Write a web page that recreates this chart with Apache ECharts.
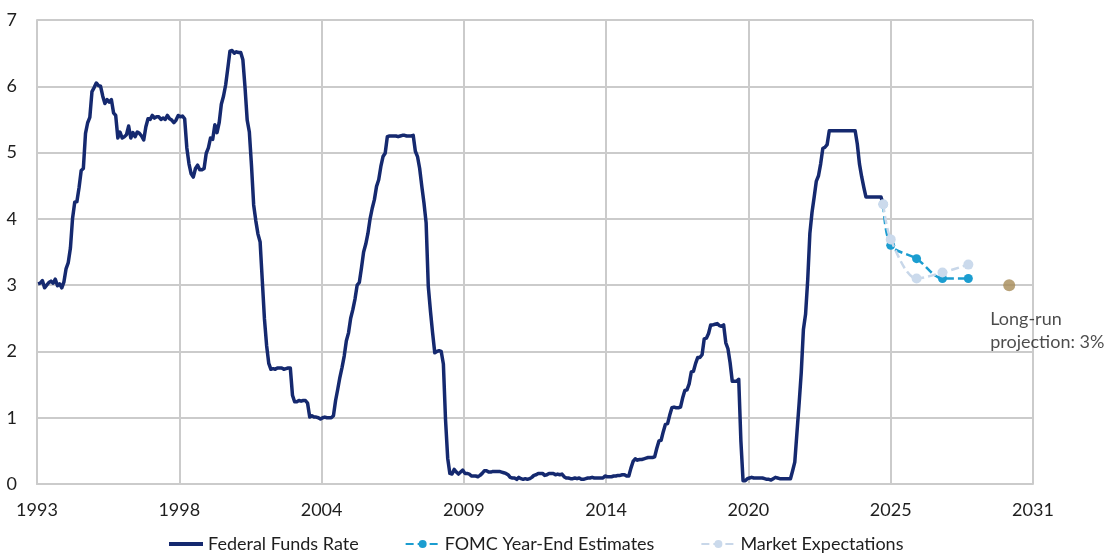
<!DOCTYPE html>
<html>
<head>
<meta charset="utf-8">
<title>Federal Funds Rate</title>
<script src="https://cdn.jsdelivr.net/npm/echarts@6/dist/echarts.min.js"></script>
<style>
  html, body { margin: 0; padding: 0; background: #ffffff; }
  #chart { width: 1109px; height: 556px; }
</style>
</head>
<body>
<div id="chart"></div>
<script>
// Horizontal axis: years counted from Jan 1993, gridline every 5.5 years
const X_START = 1993;
const X_STEP = 5.5;
const xTickLabels = ['1993', '1998', '2004', '2009', '2014', '2020', '2025', '2031'];

// Effective federal funds rate, monthly, Jan 1993 .. Sep 2025 (%)
const fedFundsStart = 1993;
const fedFundsRate = [
  3.02, 3.03, 3.07, 2.96, 3.00, 3.04, 3.06, 3.03, 3.09, 2.99, 3.02, 2.96, // 1993
  3.05, 3.25, 3.34, 3.56, 4.01, 4.25, 4.26, 4.47, 4.73, 4.76, 5.29, 5.45, // 1994
  5.53, 5.92, 5.98, 6.05, 6.01, 6.00, 5.85, 5.74, 5.80, 5.76, 5.80, 5.60, // 1995
  5.56, 5.22, 5.31, 5.22, 5.24, 5.27, 5.40, 5.22, 5.30, 5.24, 5.31, 5.29, // 1996
  5.25, 5.19, 5.39, 5.51, 5.50, 5.56, 5.52, 5.54, 5.54, 5.50, 5.52, 5.50, // 1997
  5.56, 5.51, 5.49, 5.45, 5.49, 5.56, 5.54, 5.55, 5.51, 5.07, 4.83, 4.68, // 1998
  4.63, 4.76, 4.81, 4.74, 4.74, 4.76, 4.99, 5.07, 5.22, 5.20, 5.42, 5.30, // 1999
  5.45, 5.73, 5.85, 6.02, 6.27, 6.53, 6.54, 6.50, 6.52, 6.51, 6.51, 6.40, // 2000
  5.98, 5.49, 5.31, 4.80, 4.21, 3.97, 3.77, 3.65, 3.07, 2.49, 2.09, 1.82, // 2001
  1.73, 1.74, 1.73, 1.75, 1.75, 1.75, 1.73, 1.74, 1.75, 1.75, 1.34, 1.24, // 2002
  1.24, 1.26, 1.25, 1.26, 1.26, 1.22, 1.01, 1.03, 1.01, 1.01, 1.00, 0.98, // 2003
  1.00, 1.01, 1.00, 1.00, 1.00, 1.03, 1.26, 1.43, 1.61, 1.76, 1.93, 2.16, // 2004
  2.28, 2.50, 2.63, 2.79, 3.00, 3.04, 3.26, 3.50, 3.62, 3.78, 4.00, 4.16, // 2005
  4.29, 4.49, 4.59, 4.79, 4.94, 4.99, 5.24, 5.25, 5.25, 5.25, 5.25, 5.24, // 2006
  5.25, 5.26, 5.26, 5.25, 5.25, 5.25, 5.26, 5.02, 4.94, 4.76, 4.49, 4.24, // 2007
  3.94, 2.98, 2.61, 2.28, 1.98, 2.00, 2.01, 2.00, 1.81, 0.97, 0.39, 0.16, // 2008
  0.15, 0.22, 0.18, 0.15, 0.18, 0.21, 0.16, 0.16, 0.15, 0.12, 0.12, 0.12, // 2009
  0.11, 0.13, 0.16, 0.20, 0.20, 0.18, 0.18, 0.19, 0.19, 0.19, 0.19, 0.18, // 2010
  0.17, 0.16, 0.14, 0.10, 0.09, 0.09, 0.07, 0.10, 0.08, 0.07, 0.08, 0.07, // 2011
  0.08, 0.10, 0.13, 0.14, 0.16, 0.16, 0.16, 0.13, 0.14, 0.16, 0.16, 0.16, // 2012
  0.14, 0.15, 0.14, 0.15, 0.11, 0.09, 0.09, 0.08, 0.08, 0.09, 0.08, 0.09, // 2013
  0.07, 0.07, 0.08, 0.09, 0.09, 0.10, 0.09, 0.09, 0.09, 0.09, 0.09, 0.12, // 2014
  0.11, 0.11, 0.11, 0.12, 0.12, 0.13, 0.13, 0.14, 0.14, 0.12, 0.12, 0.24, // 2015
  0.34, 0.38, 0.36, 0.37, 0.37, 0.38, 0.39, 0.40, 0.40, 0.40, 0.41, 0.54, // 2016
  0.65, 0.66, 0.79, 0.90, 0.91, 1.04, 1.15, 1.16, 1.15, 1.15, 1.16, 1.30, // 2017
  1.41, 1.42, 1.51, 1.69, 1.70, 1.82, 1.91, 1.91, 1.95, 2.19, 2.20, 2.27, // 2018
  2.40, 2.40, 2.41, 2.42, 2.39, 2.38, 2.40, 2.13, 2.04, 1.83, 1.55, 1.55, // 2019
  1.55, 1.58, 0.65, 0.05, 0.05, 0.08, 0.09, 0.10, 0.09, 0.09, 0.09, 0.09, // 2020
  0.09, 0.08, 0.07, 0.07, 0.06, 0.08, 0.10, 0.09, 0.08, 0.08, 0.08, 0.08, // 2021
  0.08, 0.08, 0.20, 0.33, 0.77, 1.21, 1.68, 2.33, 2.56, 3.08, 3.78, 4.10, // 2022
  4.33, 4.57, 4.65, 4.83, 5.06, 5.08, 5.12, 5.33, 5.33, 5.33, 5.33, 5.33, // 2023
  5.33, 5.33, 5.33, 5.33, 5.33, 5.33, 5.33, 5.33, 5.13, 4.83, 4.64, 4.48, // 2024
  4.33, 4.33, 4.33, 4.33, 4.33, 4.33, 4.33, 4.33, 4.22                    // 2025
];

// Projections: current rate, then year-end points 2025..2028
const projectionDates = [2025.71, 2026, 2027, 2028, 2029];
const fomcYearEnd = [4.22, 3.6, 3.4, 3.1, 3.1];
const marketExpectations = [4.22, 3.69, 3.10, 3.19, 3.31];

// Longer-run FOMC projection
const longRunDate = 2030.58;
const longRunValue = 3.0;
const longRunLabel = 'Long-run\nprojection: 3%';

const FONT = 'Lato, "Open Sans", sans-serif';
const GRID_COLOR = '#cbcbcb';
const TEXT_COLOR = '#1e1e1e';
const NAVY = '#15296f';

const toX = (year) => year - X_START;

const fedFundsData = fedFundsRate.map((v, i) => [toX(fedFundsStart + (i + 0.5) / 12), v]);
const fomcData = fomcYearEnd.map((v, i) => [toX(projectionDates[i]), v]);
const marketData = marketExpectations.map((v, i) => [toX(projectionDates[i]), v]);

const chart = echarts.init(document.getElementById('chart'), null, { renderer: 'canvas' });

chart.setOption({
  animation: false,
  backgroundColor: '#ffffff',
  textStyle: { fontFamily: FONT },
  grid: { left: 37, right: 76, top: 20, bottom: 72, containLabel: false, outerBoundsMode: 'none' },
  xAxis: {
    type: 'value',
    min: 0,
    max: X_STEP * 7,
    interval: X_STEP,
    axisLine: { show: true, lineStyle: { color: GRID_COLOR, width: 2 } },
    axisTick: { show: false },
    axisLabel: {
      margin: 17,
      fontSize: 18,
      color: TEXT_COLOR,
      fontFamily: FONT,
      formatter: (v) => xTickLabels[Math.round(v / X_STEP)] || ''
    },
    splitLine: { show: true, lineStyle: { color: GRID_COLOR, width: 2 } }
  },
  yAxis: {
    type: 'value',
    min: 0,
    max: 7,
    interval: 1,
    axisLine: { show: true, lineStyle: { color: GRID_COLOR, width: 2 } },
    axisTick: { show: false },
    axisLabel: { margin: 20, fontSize: 18, color: TEXT_COLOR, fontFamily: FONT },
    splitLine: { show: true, lineStyle: { color: GRID_COLOR, width: 2 } }
  },
  legend: {
    data: [
      { name: 'Federal Funds Rate', itemStyle: { opacity: 0 }, lineStyle: { width: 4, color: NAVY } },
      'FOMC Year-End Estimates',
      'Market Expectations'
    ],
    left: 167,
    top: 535,
    padding: 0,
    itemWidth: 34,
    itemHeight: 10,
    itemGap: 46,
    textStyle: { fontSize: 18, color: TEXT_COLOR, fontFamily: FONT }
  },
  series: [
    {
      name: 'Federal Funds Rate',
      type: 'line',
      data: fedFundsData,
      symbol: 'none',
      showSymbol: false,
      lineStyle: { color: NAVY, width: 3.5, join: 'round' },
      itemStyle: { color: NAVY },
      z: 3
    },
    {
      name: 'FOMC Year-End Estimates',
      type: 'line',
      data: fomcData,
      symbol: 'circle',
      symbolSize: 9,
      smooth: 0.3,
      lineStyle: { color: '#1b9dd0', width: 2.5, type: [8, 4] },
      itemStyle: { color: '#1b9dd0' },
      z: 4
    },
    {
      name: 'Market Expectations',
      type: 'line',
      data: marketData,
      symbol: 'circle',
      symbolSize: 10,
      smooth: 0.3,
      lineStyle: { color: '#c8d7e9', width: 2.5, type: [8, 4] },
      itemStyle: { color: '#cbdaec' },
      z: 5
    },
    {
      name: 'Long-run projection',
      type: 'scatter',
      data: [[toX(longRunDate), longRunValue]],
      symbol: 'circle',
      symbolSize: 12,
      itemStyle: { color: '#a68b57' },
      label: {
        show: true,
        formatter: longRunLabel,
        position: 'bottom',
        distance: 5,
        align: 'left',
        offset: [-19, 12],
        fontSize: 18,
        lineHeight: 23,
        color: TEXT_COLOR,
        fontFamily: FONT
      },
      z: 6
    }
  ]
});
</script>
</body>
</html>
